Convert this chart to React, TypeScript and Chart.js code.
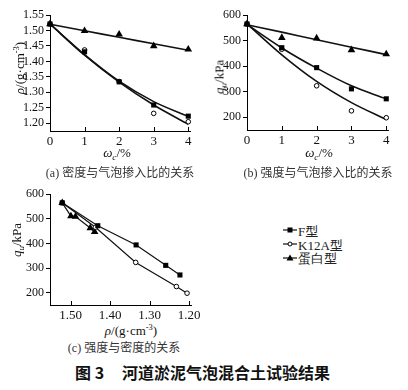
import React, { useEffect, useRef } from "react";
import { Chart, registerables } from "chart.js";
Chart.register(...registerables);

// ---------- data ----------
const seriesNames = ["F型", "K12A型", "蛋白型"];
const omega = [0, 1, 2, 3, 4];

// (a) density vs foam ratio
const rhoF = [1.521, 1.431, 1.334, 1.259, 1.223];
const rhoK = [1.521, 1.437, 1.335, 1.232, 1.205];
const rhoP = [1.521, 1.499, 1.4875, 1.45, 1.439];
const rhoFitF = [1.521, 1.422, 1.336, 1.27, 1.222];
const rhoFitK = [1.521, 1.42, 1.333, 1.259, 1.197];
const rhoFitP = [1.52, 1.499, 1.478, 1.457, 1.436];

// (b) strength vs foam ratio
const qF = [565, 472, 394, 311, 272];
const qK = [565, 466, 323, 225, 198];
const qP = [565, 511, 509, 463, 447];
const qFitF = [563, 471, 392, 323, 272];
const qFitK = [565, 444, 340, 257, 191];
const qFitP = [562, 533, 503, 474, 445];

// tick labels
const omegaTicks = [0, 1, 2, 3, 4];
const rhoTicks = [1.2, 1.25, 1.3, 1.35, 1.4, 1.45, 1.5, 1.55];
const qTicks = [200, 300, 400, 500, 600];
const rhoTicksC = [1.5, 1.4, 1.3, 1.2];

const SERIF = "'Liberation Serif', 'Times New Roman', serif";
const CJK = "'Noto Sans CJK SC', sans-serif";

const pts = (xs: number[], ys: number[]) => xs.map((x, i) => ({ x, y: ys[i] }));

const innerTicks = {
  id: "innerTicks",
  afterDatasetsDraw(chart: any) {
    const s = chart.scales.x;
    const ctx = chart.ctx;
    ctx.save();
    ctx.strokeStyle = "#000";
    ctx.lineWidth = 1;
    s.ticks.forEach((t: any) => {
      const px = Math.round(s.getPixelForValue(t.value)) + 0.5;
      ctx.beginPath();
      ctx.moveTo(px, s.top);
      ctx.lineTo(px, s.top - 4);
      ctx.stroke();
    });
    ctx.restore();
  },
};

function yAxis(min: number, max: number, ticks: number[], dec: number, width: number) {
  return {
    type: "linear",
    min,
    max,
    afterBuildTicks: (s: any) => {
      s.ticks = ticks.map((v) => ({ value: v }));
    },
    afterFit: (s: any) => {
      s.width = width;
    },
    grid: { display: true, drawOnChartArea: false, drawTicks: true, tickLength: 4, color: "#000", lineWidth: 1 },
    border: { display: true, color: "#000", width: 1 },
    ticks: {
      color: "#111",
      font: { family: SERIF, size: 12 },
      padding: 2,
      autoSkip: false,
      callback: (v: any) => Number(v).toFixed(dec),
    },
  };
}

function xAxis(min: number, max: number, ticks: number[], dec: number, height: number, reverse = false) {
  return {
    type: "linear",
    min,
    max,
    reverse,
    afterBuildTicks: (s: any) => {
      s.ticks = ticks.map((v) => ({ value: v }));
    },
    afterFit: (s: any) => {
      s.height = height;
    },
    grid: { display: false, drawTicks: false, tickLength: 0 },
    border: { display: true, color: "#000", width: 1 },
    ticks: {
      color: "#111",
      font: { family: SERIF, size: 13 },
      padding: 3,
      maxRotation: 0,
      autoSkip: false,
      callback: (v: any) => Number(v).toFixed(dec),
    },
  };
}

const markerF = { pointStyle: "rect", pointRadius: 3.6, backgroundColor: "#000", borderColor: "#000", borderWidth: 0 };
const markerK = { pointStyle: "circle", pointRadius: 2.3, backgroundColor: "#fff", borderColor: "#000", borderWidth: 1 };
const markerP = { pointStyle: "triangle", pointRadius: 4.4, backgroundColor: "#000", borderColor: "#000", borderWidth: 0 };

function scatterSet(label: string, data: any[], marker: any) {
  return { label, data, showLine: false, clip: false, ...marker, pointHoverRadius: marker.pointRadius };
}
function fitSet(label: string, data: any[]) {
  return {
    label,
    data,
    showLine: true,
    pointRadius: 0,
    borderColor: "#111",
    borderWidth: 1.6,
    cubicInterpolationMode: "monotone",
    clip: false,
  };
}
function polySet(label: string, data: any[], marker: any) {
  return {
    label,
    data,
    showLine: true,
    clip: false,
    ...marker,
    borderColor: "#111",
    borderWidth: 1.2,
    pointBorderColor: "#000",
    pointBorderWidth: marker.borderWidth,
    pointBackgroundColor: marker.backgroundColor,
    backgroundColor: marker.backgroundColor,
  };
}

function baseOptions(padding: any, scales: any) {
  return {
    responsive: false,
    animation: false,
    devicePixelRatio: 1,
    layout: { padding },
    plugins: { legend: { display: false }, tooltip: { enabled: false } },
    events: [],
    scales,
  };
}

const Label = ({ x, y, rotate = 0, size = 13, children, style = {} }: any) => (
  <div
    style={{
      position: "absolute",
      left: x,
      top: y,
      transform: `translate(-50%, -50%) rotate(${rotate}deg)`,
      whiteSpace: "nowrap",
      fontFamily: SERIF,
      fontSize: size,
      lineHeight: `${size + 2}px`,
      color: "#111",
      ...style,
    }}
  >
    {children}
  </div>
);

const Han = ({ children }: any) => <span style={{ fontFamily: CJK }}>{children}</span>;

const Sup = ({ children }: any) => (
  <span style={{ fontSize: "0.65em", position: "relative", top: "-0.55em" }}>{children}</span>
);
const Sub = ({ children }: any) => (
  <span style={{ fontSize: "0.7em", position: "relative", top: "0.35em" }}>{children}</span>
);

const RhoTitle = () => (
  <span>
    <i>ρ</i>/(g·cm<Sup>-3</Sup>)
  </span>
);
const OmegaTitle = () => (
  <span>
    <i>ω</i>
    <Sub>
      <i>c</i>
    </Sub>
    /%
  </span>
);
const QTitle = () => (
  <span>
    <i>q</i>
    <Sub>
      <i>u</i>
    </Sub>
    /kPa
  </span>
);

const LegendIcon = ({ kind }: { kind: number }) => (
  <svg width="14" height="10" style={{ display: "block" }}>
    <line x1="0" y1="5" x2="14" y2="5" stroke="#111" strokeWidth="1.2" />
    {kind === 0 && <rect x="4.5" y="2.5" width="5" height="5" fill="#000" />}
    {kind === 1 && <circle cx="7" cy="5" r="2" fill="#fff" stroke="#000" strokeWidth="1" />}
    {kind === 2 && <polygon points="7,1.5 10.5,7.5 3.5,7.5" fill="#000" />}
  </svg>
);

const splitName = (name: string) => {
  const i = name.indexOf("型");
  return { latin: name.slice(0, i), han: name.slice(i) };
};

export default function App() {
  const refA = useRef<HTMLCanvasElement>(null);
  const refB = useRef<HTMLCanvasElement>(null);
  const refC = useRef<HTMLCanvasElement>(null);

  useEffect(() => {
    const charts: Chart[] = [];
    charts.push(
      new Chart(refA.current as HTMLCanvasElement, {
        type: "scatter",
        data: {
          datasets: [
            scatterSet(seriesNames[0], pts(omega, rhoF), markerF),
            scatterSet(seriesNames[1], pts(omega, rhoK), markerK),
            scatterSet(seriesNames[2], pts(omega, rhoP), markerP),
            fitSet("fitF", pts(omega, rhoFitF)),
            fitSet("fitK", pts(omega, rhoFitK)),
            fitSet("fitP", pts(omega, rhoFitP)),
          ],
        } as any,
        options: baseOptions(
          { top: 15, right: 14, left: 0, bottom: 0 },
          {
            x: xAxis(0, 4.05, omegaTicks, 0, 19),
            y: yAxis(1.175, 1.55, rhoTicks, 2, 50),
          }
        ) as any,
        plugins: [innerTicks],
      })
    );
    charts.push(
      new Chart(refB.current as HTMLCanvasElement, {
        type: "scatter",
        data: {
          datasets: [
            scatterSet(seriesNames[0], pts(omega, qF), markerF),
            scatterSet(seriesNames[1], pts(omega, qK), markerK),
            scatterSet(seriesNames[2], pts(omega, qP), markerP),
            fitSet("fitF", pts(omega, qFitF)),
            fitSet("fitK", pts(omega, qFitK)),
            fitSet("fitP", pts(omega, qFitP)),
          ],
        } as any,
        options: baseOptions(
          { top: 15, right: 20, left: 0, bottom: 0 },
          {
            x: xAxis(0, 4.05, omegaTicks, 0, 20),
            y: yAxis(150, 600, qTicks, 0, 43),
          }
        ) as any,
        plugins: [innerTicks],
      })
    );
    charts.push(
      new Chart(refC.current as HTMLCanvasElement, {
        type: "scatter",
        data: {
          datasets: [
            polySet(seriesNames[0], pts(rhoF, qF), markerF),
            polySet(seriesNames[1], pts(rhoK, qK), markerK),
            polySet(seriesNames[2], pts(rhoP, qP), markerP),
          ],
        } as any,
        options: baseOptions(
          { top: 8, right: 13, left: 0, bottom: 0 },
          {
            x: xAxis(1.195, 1.552, rhoTicksC, 2, 15, true),
            y: yAxis(150, 600, qTicks, 0, 50),
          }
        ) as any,
        plugins: [innerTicks],
      })
    );
    return () => charts.forEach((c) => c.destroy());
  }, []);

  const canvasStyle = (l: number, t: number, w: number, h: number): React.CSSProperties => ({
    position: "absolute",
    left: l,
    top: t,
    width: w,
    height: h,
  });

  return (
    <div
      style={{
        position: "fixed",
        left: 0,
        top: 0,
        width: 408,
        height: 390,
        background: "#fff",
        overflow: "hidden",
      }}
    >
      <canvas ref={refA} width={204} height={150} style={canvasStyle(0, 0, 204, 150)} />
      <canvas ref={refB} width={204} height={150} style={canvasStyle(204, 0, 204, 150)} />
      <canvas ref={refC} width={204} height={135} style={canvasStyle(0, 185, 204, 135)} />

      {/* axis titles */}
      <Label x={20} y={68} rotate={-90}>
        <RhoTitle />
      </Label>
      <Label x={117} y={153}>
        <OmegaTitle />
      </Label>
      <Label x={220} y={77} rotate={-90}>
        <QTitle />
      </Label>
      <Label x={319} y={153}>
        <OmegaTitle />
      </Label>
      <Label x={17} y={240} rotate={-90}>
        <QTitle />
      </Label>
      <Label x={131} y={331}>
        <RhoTitle />
      </Label>

      {/* captions */}
      <Label x={120} y={172} size={12} style={{ color: "#333" }}>
        (a) <Han>密度与气泡掺入比的关系</Han>
      </Label>
      <Label x={318} y={172} size={12} style={{ color: "#333" }}>
        (b) <Han>强度与气泡掺入比的关系</Han>
      </Label>
      <Label x={124} y={347} size={12} style={{ color: "#333" }}>
        (c) <Han>强度与密度的关系</Han>
      </Label>

      {/* legend */}
      {seriesNames.map((name, i) => {
        const p = splitName(name);
        return (
          <div
            key={name}
            style={{
              position: "absolute",
              left: 283,
              top: 230 + i * 14 - 7,
              height: 14,
              display: "flex",
              alignItems: "center",
              fontFamily: SERIF,
              fontSize: 13,
              color: "#222",
              whiteSpace: "nowrap",
            }}
          >
            <LegendIcon kind={i} />
            <span style={{ marginLeft: 1 }}>
              {p.latin}
              <Han>{p.han}</Han>
            </span>
          </div>
        );
      })}

      {/* figure title */}
      <div
        style={{
          position: "absolute",
          left: 75,
          top: 362,
          fontFamily: CJK,
          fontWeight: "bold",
          fontSize: 16,
          lineHeight: "20px",
          color: "#111",
          whiteSpace: "nowrap",
        }}
      >
        图 3<span style={{ marginLeft: 18 }}>河道淤泥气泡混合土试验结果</span>
      </div>
    </div>
  );
}
